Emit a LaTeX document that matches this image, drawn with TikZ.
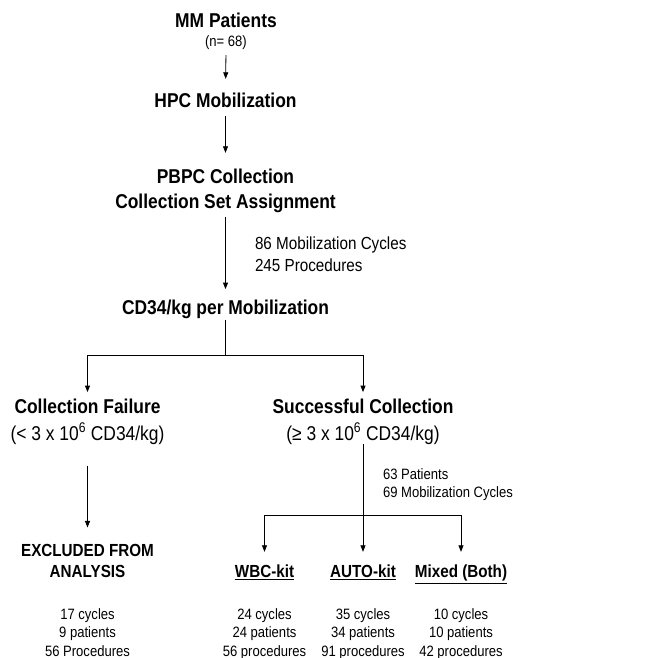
\documentclass[tikz,border=0pt]{standalone}
\usepackage{fontspec}
\setmainfont{Liberation Sans}[FakeStretch=0.87]
\usetikzlibrary{arrows.meta,calc}
\tikzset{
  every node/.style={inner sep=0pt, outer sep=0pt},
  head/.style={font=\fontsize{20}{25}\selectfont\bfseries, align=center, anchor=base},
  sub/.style={font=\fontsize{17.5}{21}\selectfont\bfseries, align=center, anchor=base},
  note/.style={font=\fontsize{17.5}{21.5}\selectfont, align=left, anchor=base west},
  smallnote/.style={font=\fontsize{15}{18.6}\selectfont, align=left, anchor=base west},
  stats/.style={font=\fontsize{15}{18.4}\selectfont, align=center, anchor=base},
  conn/.style={line width=0.8pt},
  arr/.style={line width=0.8pt, -{Triangle[length=6.5pt,width=5pt]}}
}
\begin{document}
\begin{tikzpicture}[x=1pt,y=-1pt]
\useasboundingbox (0,0) rectangle (649,658);
% nodes (anchor base = baseline of last line)
\node[head] (mm) at (226,46.5) {MM Patients\\[-6pt]{\fontsize{15}{18}\selectfont\mdseries (n= 68)}};
\node[head] (hpc) at (225.5,108) {HPC Mobilization};
\node[head] (pbpc) at (225.5,208) {PBPC Collection\\Collection Set Assignment};
\node[note] (n1) at (255,271) {86 Mobilization Cycles\\245 Procedures};
\node[head] (cd34) at (225.5,314) {CD34/kg per Mobilization};
\node[head] (fail) at (87.5,440) {Collection Failure\\[1.7pt]{\mdseries (< 3 x 10\textsuperscript{6} CD34/kg)}};
\node[head] (succ) at (363,440) {Successful Collection\\[1.7pt]{\mdseries (≥ 3 x 10\textsuperscript{6} CD34/kg)}};
\node[smallnote] (n2) at (383,497.7) {63 Patients\\69 Mobilization Cycles};
\node[sub] (excl) at (87.5,577.7) {EXCLUDED FROM\\ANALYSIS};
\node[sub] (wbc) at (264.5,577.7) {\underline{WBC-kit}};
\node[sub] (auto) at (363,577.7) {\underline{AUTO-kit}};
\node[sub] (mixed) at (461,577.7) {\underline{Mixed (Both)}};
\node[stats] (sx) at (87.5,656) {17 cycles\\9 patients\\56 Procedures};
\node[stats] (sw) at (264.5,656) {24 cycles\\24 patients\\56 procedures};
\node[stats] (sa) at (363,656) {35 cycles\\34 patients\\91 procedures};
\node[stats] (sm) at (461,656) {10 cycles\\10 patients\\42 procedures};
\coordinate (s1) at (225.5,355);
\coordinate (s2) at (363,515);
% connectors
\draw[arr, shorten <=5.4pt, shorten >=14.7pt] (mm.south) -- (hpc.north);
\draw[arr, shorten <=8pt, shorten >=15.7pt] (hpc.south) -- (pbpc.north);
\draw[arr, shorten <=4.8pt, shorten >=10.4pt] (pbpc.south) -- (cd34.north);
\draw[conn, shorten <=1.5pt] (cd34.south) -- (s1);
\draw[arr, shorten >=6.7pt] (s1) -| (fail.north);
\draw[arr, shorten >=6.7pt] (s1) -| (succ.north);
\draw[arr, shorten <=21.8pt, shorten >=17pt] (fail.south) -- (excl.north);
\draw[conn] (succ.south) -- (s2);
\draw[arr, shorten >=13.2pt] (s2) -- (auto.north);
\draw[arr, shorten >=13.2pt] (s2) -| (wbc.north);
\draw[arr, shorten >=13.2pt] (s2) -| (mixed.north);
\end{tikzpicture}
\end{document}
